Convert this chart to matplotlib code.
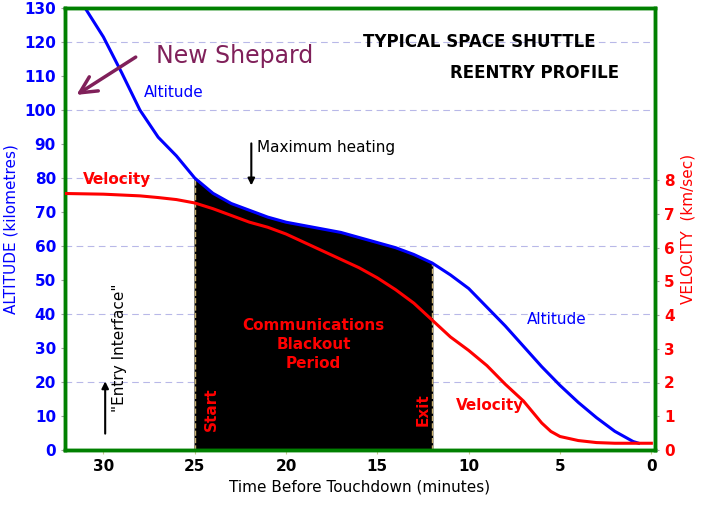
import matplotlib
matplotlib.use('Agg')
import matplotlib.pyplot as plt
import numpy as np

alt_t = [31.3, 31, 30, 29, 28, 27, 26, 25, 24, 23, 22, 21, 20, 19, 18, 17, 16, 15, 14, 13, 12,
         11, 10, 9, 8, 7, 6, 5, 4, 3, 2, 1, 0.7]
alt_v = [132, 130, 121.5, 111, 100, 92, 86.5, 80, 75.5, 72.5, 70.5, 68.5, 67, 66, 65, 64, 62.5, 61, 59.5, 57.5, 55,
         51.5, 47.5, 42, 36.5, 30.5, 24.5, 19, 14, 9.5, 5.5, 2.5, 2]
vel_t = [32.1, 30, 28, 27, 26, 25, 24, 23, 22, 21, 20, 19, 18, 17, 16, 15, 14, 13, 12,
         11, 10, 9, 8, 7, 6, 5.5, 5, 4, 3, 2, 1, 0]
vel_v = [7.6, 7.58, 7.53, 7.48, 7.42, 7.32, 7.15, 6.95, 6.75, 6.6, 6.4, 6.15, 5.9, 5.65, 5.4, 5.1, 4.75, 4.35, 3.85,
         3.35, 2.95, 2.5, 1.95, 1.45, 0.8, 0.55, 0.4, 0.28, 0.22, 0.2, 0.2, 0.2]

fig = plt.figure(figsize=(7.05, 5.13), dpi=100)
ax = fig.add_axes([65/705, 63/513, 590/705, 442/513])
ax2 = ax.twinx()

ax.set_xlim(32.1, -0.2)
ax.set_ylim(0, 130)
ax2.set_ylim(0, 442 / 33.75)

for y in range(20, 130, 20):
    ax.axhline(y, color='#b8b8e8', lw=0.8, ls=(0, (6, 4)), zorder=0)

t = np.array(alt_t); a = np.array(alt_v)
mask = (t <= 25) & (t >= 12)
ax.fill_between(t[mask], 0, a[mask], color='black', zorder=1)
ax.vlines([25, 12], 0, [80, 55], color='#c8b070', lw=1, ls='--', zorder=2)
ax.plot(alt_t, alt_v, color='#0000ff', lw=2.2, zorder=3)
ax2.plot(vel_t, vel_v, color='#ff0000', lw=2.2, zorder=3)

ax.set_xticks([30, 25, 20, 15, 10, 5, 0])
ax.set_yticks(range(0, 131, 10))
ax2.set_yticks(range(0, 9))
ax.tick_params(axis='x', labelsize=11, length=3, color='#c8c890')
ax.tick_params(axis='y', labelcolor='#0000ff', labelsize=11, length=3, color='#a0a0a0')
ax2.tick_params(axis='y', labelcolor='#ff0000', labelsize=11, length=3, color='#a0a0a0')
for lab in ax.get_xticklabels() + ax.get_yticklabels() + ax2.get_yticklabels():
    lab.set_fontweight('bold')
for sp in list(ax.spines.values()) + list(ax2.spines.values()):
    sp.set_color('#008000'); sp.set_linewidth(2.5)

ax.set_xlabel('Time Before Touchdown (minutes)', fontsize=11)
ax.set_ylabel('ALTITUDE (kilometres)', color='#0000ff', fontsize=11, labelpad=4)
ax2.set_ylabel('VELOCITY  (km/sec)', color='#ff0000', fontsize=11, labelpad=4)

ax.text(15.8, 120, 'TYPICAL SPACE SHUTTLE', fontsize=12, fontweight='bold', va='center')
ax.text(11.0, 111, 'REENTRY PROFILE', fontsize=12, fontweight='bold', va='center')
ax.text(27.1, 116, 'New Shepard', fontsize=17, color='#80205a', va='center')
ax.annotate('', xy=(31.6, 104), xytext=(28.1, 116),
            arrowprops=dict(arrowstyle='->', color='#80205a', lw=2.5, mutation_scale=30))
ax.text(27.8, 105, 'Altitude', color='#0000ff', fontsize=11, va='center')
ax.text(6.8, 38.5, 'Altitude', color='#0000ff', fontsize=11, va='center')
ax.text(31.1, 79.5, 'Velocity', color='#ff0000', fontsize=11, fontweight='bold', va='center')
ax.text(10.7, 13, 'Velocity', color='#ff0000', fontsize=11, fontweight='bold', va='center')
ax.text(21.6, 89, 'Maximum heating', fontsize=11, va='center')
ax.annotate('', xy=(21.9, 77), xytext=(21.9, 91),
            arrowprops=dict(arrowstyle='-|>', color='black', lw=1.5))
ax.text(18.5, 31, 'Communications\nBlackout\nPeriod', color='#ff0000', fontsize=11,
        fontweight='bold', ha='center', va='center', linespacing=1.3)
ax.text(24.1, 12, 'Start', color='#ff0000', fontsize=11, fontweight='bold', rotation=90, ha='center', va='center')
ax.text(12.5, 12, 'Exit', color='#ff0000', fontsize=11, fontweight='bold', rotation=90, ha='center', va='center')
ax.text(29.1, 30, '"Entry Interface"', fontsize=11, rotation=90, ha='center', va='center')
ax.annotate('', xy=(29.9, 21), xytext=(29.9, 4),
            arrowprops=dict(arrowstyle='-|>', color='black', lw=1.5))

fig.savefig('out.png', dpi=100)
